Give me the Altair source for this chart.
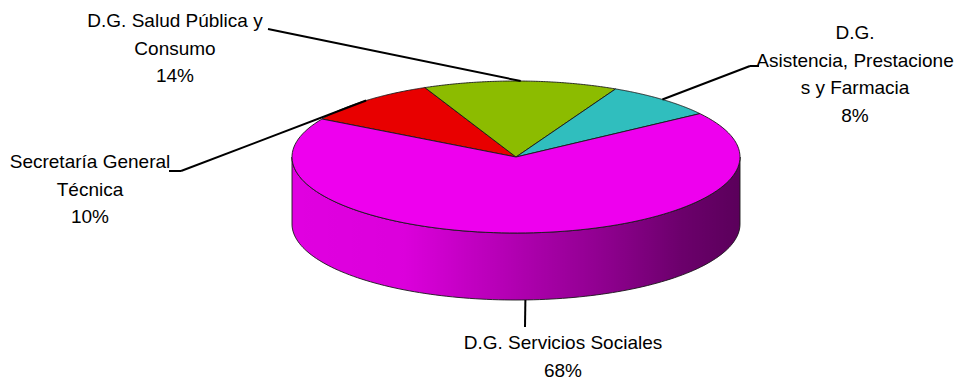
import altair as alt
import pandas as pd

# ---------------- data ----------------
categories = [
    "Secretaría General Técnica",
    "D.G. Salud Pública y Consumo",
    "D.G. Asistencia, Prestaciones y Farmacia",
    "D.G. Servicios Sociales",
]
shares = [10, 14, 8, 68]
label_lines = [
    ["Secretaría General", "Técnica"],
    ["D.G. Salud Pública y", "Consumo"],
    ["D.G.", "Asistencia, Prestacione", "s y Farmacia"],
    ["D.G. Servicios Sociales"],
]
palette = ["#E80000", "#8CBC00", "#30BEBE", "#EE00EE"]

# ---------------- layout ----------------
W, H = 961, 381
CX, CY, RX, RY, DEPTH = 516, 157, 224, 76, 67
START_DEG = -60
N = 120
LINE_H = 27.5
label_pos = [(90, 162), (175, 21), (855, 33), (563, 343)]
leader_start = [(169, 171), (268, 29), (759, 66), (525, 327)]
leader_elbow = [(181, 171), (268, 29), (750, 66), (525, 327)]
FONT = "Liberation Sans, Arial, sans-serif"

slices = pd.DataFrame({
    "idx": list(range(len(shares))),
    "category": categories,
    "share": shares,
    "sx": [p[0] for p in leader_start],
    "sy": [p[1] for p in leader_start],
    "ex": [p[0] for p in leader_elbow],
    "ey": [p[1] for p in leader_elbow],
})

rows = []
total = sum(shares)
for i, lines in enumerate(label_lines):
    all_lines = lines + [f"{round(100 * shares[i] / total)}%"]
    for j, s in enumerate(all_lines):
        rows.append({"category": categories[i], "text": s,
                     "tx": label_pos[i][0], "ty": label_pos[i][1] + j * LINE_H})
labels = pd.DataFrame(rows)

xs = alt.Scale(domain=[0, W], nice=False, zero=False)
ys = alt.Scale(domain=[0, H], nice=False, zero=False, reverse=True)
cs = alt.Scale(domain=categories, range=palette)

start = f"({START_DEG} * PI / 180)"
base = alt.Chart(slices).transform_window(
    cum="sum(share)", sort=[alt.SortField("idx")], frame=[None, 0]
).transform_joinaggregate(total="sum(share)").transform_calculate(
    a0=f"{start} + 2 * PI * (datum.cum - datum.share) / datum.total",
    a1=f"{start} + 2 * PI * datum.cum / datum.total",
)

# top surface (ellipse wedges)
top = base.transform_calculate(
    k=f"sequence(-1, {N + 2})"
).transform_flatten(["k"]).transform_calculate(
    t=f"datum.a0 + (datum.a1 - datum.a0) * clamp(datum.k, 0, {N}) / {N}",
    rim=f"datum.k >= 0 && datum.k <= {N}",
    px=f"datum.rim ? {CX} + {RX} * sin(datum.t) : {CX}",
    py=f"datum.rim ? {CY} - {RY} * cos(datum.t) : {CY}",
).mark_line(filled=True, stroke="#1a1a1a", strokeWidth=0.9, strokeJoin="round").encode(
    x=alt.X("px:Q", scale=xs, axis=None),
    y=alt.Y("py:Q", scale=ys, axis=None),
    color=alt.Color("category:N", scale=cs, legend=None),
    detail="category:N",
    order="k:Q",
)

# visible front wall
side = base.transform_calculate(
    s0="max(datum.a0, PI / 2)",
    s1="min(datum.a1, 3 * PI / 2)",
).transform_filter("datum.s1 > datum.s0").transform_calculate(
    k=f"sequence(0, {N + 1})"
).transform_flatten(["k"]).transform_calculate(
    t=f"datum.s0 + (datum.s1 - datum.s0) * datum.k / {N}",
    px=f"{CX} + {RX} * sin(datum.t)",
    py=f"{CY} - {RY} * cos(datum.t)",
    pyb=f"datum.py + {DEPTH}",
)
side_fill = side.mark_area(orient="vertical").encode(
    x=alt.X("px:Q", scale=xs, axis=None),
    y=alt.Y("py:Q", scale=ys, axis=None),
    y2="pyb:Q",
    color=alt.Color("category:N", scale=cs, legend=None),
    detail="category:N",
)
shade = alt.Gradient(
    gradient="linear", x1=0, x2=1, y1=0, y2=0,
    stops=[
        alt.GradientStop(offset=0.0, color="rgba(0,0,0,0.06)"),
        alt.GradientStop(offset=0.25, color="rgba(0,0,0,0.08)"),
        alt.GradientStop(offset=0.5, color="rgba(0,0,0,0.26)"),
        alt.GradientStop(offset=0.72, color="rgba(0,0,0,0.42)"),
        alt.GradientStop(offset=0.87, color="rgba(0,0,0,0.55)"),
        alt.GradientStop(offset=1.0, color="rgba(0,0,0,0.62)"),
    ],
)
side_shade = side.mark_area(orient="vertical", color=shade, stroke="#1a1a1a", strokeWidth=0.9).encode(
    x=alt.X("px:Q", scale=xs, axis=None),
    y=alt.Y("py:Q", scale=ys, axis=None),
    y2="pyb:Q",
    detail="category:N",
)

# leader lines
leaders = base.transform_calculate(
    m="(datum.a0 + datum.a1) / 2",
    rxp=f"{CX} + {RX} * sin(datum.m)",
    ryp=f"{CY} - {RY} * cos(datum.m) + (cos(datum.m) < 0 ? {DEPTH} : 0)",
)
lead_a = leaders.mark_rule(color="black", strokeWidth=2).encode(
    x=alt.X("ex:Q", scale=xs, axis=None),
    y=alt.Y("ey:Q", scale=ys, axis=None),
    x2="rxp:Q",
    y2="ryp:Q",
)
lead_b = leaders.mark_rule(color="black", strokeWidth=2).encode(
    x=alt.X("sx:Q", scale=xs, axis=None),
    y=alt.Y("sy:Q", scale=ys, axis=None),
    x2="ex:Q",
    y2="ey:Q",
)

text = alt.Chart(labels).mark_text(
    font=FONT, fontSize=19, align="center", baseline="middle", color="black"
).encode(
    x=alt.X("tx:Q", scale=xs, axis=None),
    y=alt.Y("ty:Q", scale=ys, axis=None),
    text="text:N",
)

chart = alt.layer(side_fill, side_shade, top, lead_a, lead_b, text).properties(
    width=W, height=H, padding=0, autosize=alt.AutoSizeParams(type="none"),
    background="white",
).configure_view(stroke=None)

chart.save("out.html", embed_options={"renderer": "svg", "actions": False})
